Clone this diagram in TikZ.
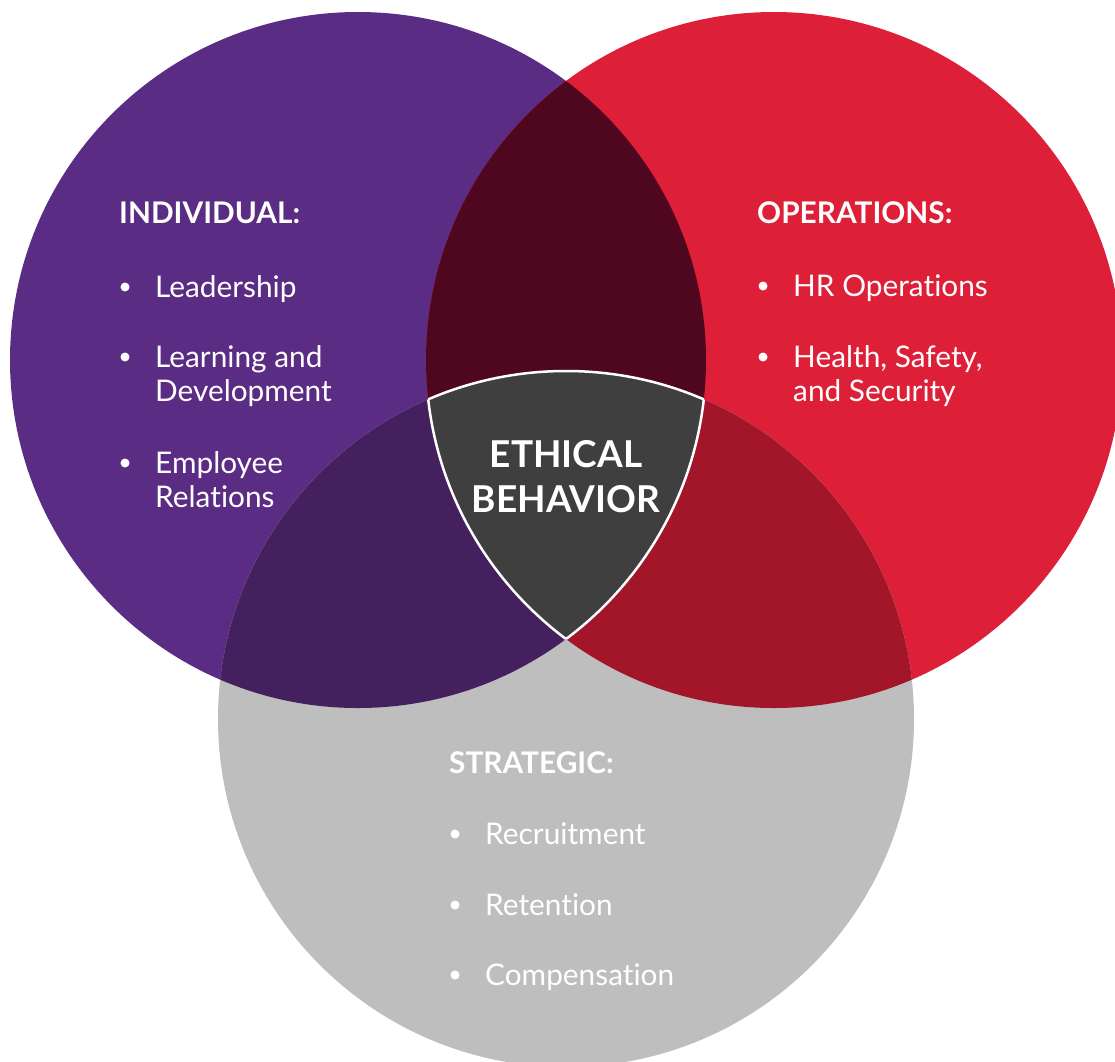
\documentclass[tikz,border=0pt]{standalone}
\usepackage{fontspec}
\setmainfont{Lato}[Ligatures=NoCommon]
\definecolor{cpurple}{HTML}{5B2C83}
\definecolor{cred}{HTML}{DE1F38}
\definecolor{cgray}{HTML}{BEBEBE}
\definecolor{cmaroon}{HTML}{4F061F}
\definecolor{cpurpgray}{HTML}{44205F}
\definecolor{credgray}{HTML}{A31528}
\definecolor{ccenter}{HTML}{3E3F3E}
\begin{document}
\begin{tikzpicture}[x=1pt,y=-1pt,
  heading/.style={anchor=base west, inner sep=0pt, text=white, font=\fontsize{29.8}{34}\selectfont\bfseries},
  item/.style={anchor=base west, inner sep=0pt, text=white, align=left, font=\fontsize{29.8}{34}\selectfont},
  bul/.style={fill=white, circle, inner sep=0pt, minimum size=9pt},
  centre/.style={anchor=base, inner sep=0pt, text=white, align=center, font=\fontsize{37}{45}\selectfont\bfseries},
  outline/.style={draw=white, line width=2.5pt}]
\useasboundingbox (0,0) rectangle (1115,1061);
\clip (0,0) rectangle (1115,1061);
\def\R{348pt}
\coordinate (P) at (358,360);
\coordinate (Q) at (774,360);
\coordinate (G) at (566,719);
% base circles
\fill[cpurple] (P) circle[radius=\R];
\fill[cred] (Q) circle[radius=\R];
\fill[cgray] (G) circle[radius=\R];
% overlaps
\begin{scope}
  \clip (P) circle[radius=\R];
  \fill[cmaroon] (Q) circle[radius=\R];
\end{scope}
\begin{scope}
  \clip (P) circle[radius=\R];
  \fill[cpurpgray] (G) circle[radius=\R];
\end{scope}
\begin{scope}
  \clip (Q) circle[radius=\R];
  \fill[credgray] (G) circle[radius=\R];
\end{scope}
% centre shield
\begin{scope}
  \clip (P) circle[radius=\R];
  \clip (Q) circle[radius=\R];
  \fill[ccenter] (G) circle[radius=\R];
  \draw[outline] (G) circle[radius=\R];
\end{scope}
\begin{scope}
  \clip (P) circle[radius=\R];
  \clip (G) circle[radius=\R];
  \draw[outline] (Q) circle[radius=\R];
\end{scope}
\begin{scope}
  \clip (Q) circle[radius=\R];
  \clip (G) circle[radius=\R];
  \draw[outline] (P) circle[radius=\R];
\end{scope}
% INDIVIDUAL
\node[heading] (hind) at (119,223) {INDIVIDUAL:};
\node[bul] (b1) at (125,287) {};
\node[item] (i1) at (155,297) {Leadership};
\node[bul] (b2) at (125,357) {};
\node[item] (i2) at (155,401) {Learning and\\Development};
\node[bul] (b3) at (125,463) {};
\node[item] (i3) at (155,507) {Employee\\Relations};
% OPERATIONS
\node[heading] (hop) at (757,223) {OPERATIONS:};
\node[bul] (b4) at (763,286) {};
\node[item] (o1) at (793,296) {HR Operations};
\node[bul] (b5) at (763,357) {};
\node[item] (o2) at (793,401) {Health, Safety,\\and Security};
% STRATEGIC
\node[heading] (hst) at (449,773) {STRATEGIC:};
\node[bul] (b6) at (455,834) {};
\node[item] (s1) at (485,844) {Recruitment};
\node[bul] (b7) at (455,905) {};
\node[item] (s2) at (485,915) {Retention};
\node[bul] (b8) at (455,975) {};
\node[item] (s3) at (485,985) {Compensation};
% centre
\node[centre] (eth) at (566,512) {ETHICAL\\BEHAVIOR};
\end{tikzpicture}
\end{document}
